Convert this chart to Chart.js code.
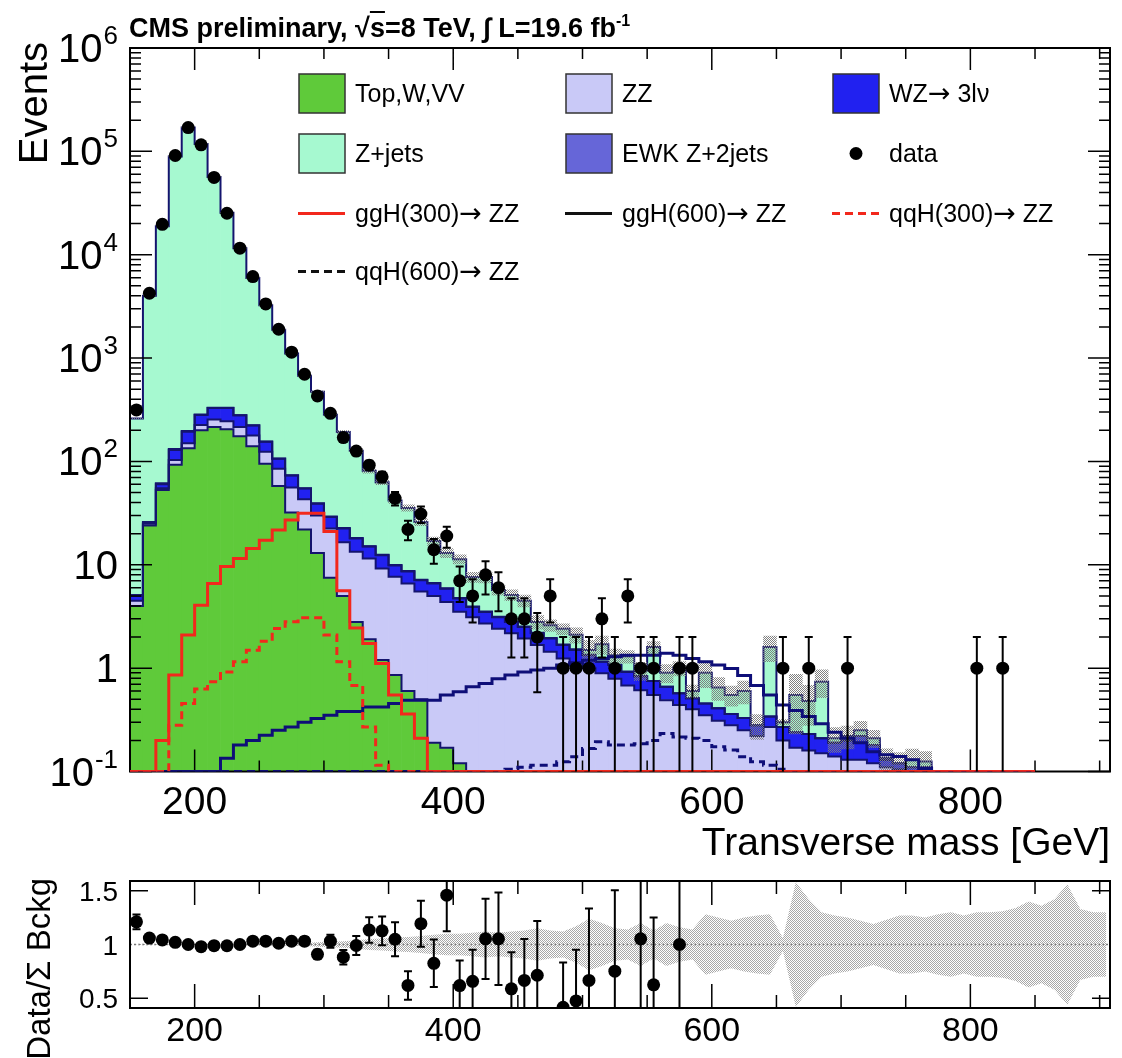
<!DOCTYPE html>
<html>
<head>
<meta charset="utf-8">
<title>Transverse mass</title>
<script src="https://cdn.jsdelivr.net/npm/chart.js@4.4.1/dist/chart.umd.min.js"></script>
<style>
  html, body { margin: 0; padding: 0; background: #fff; }
  body { position: relative; width: 1122px; height: 1058px; overflow: hidden;
         font-family: "Liberation Sans", Arial, Helvetica, sans-serif; color: #000; }
  canvas.chart { position: absolute; left: 0; }
  #mainChart { top: 0; }
  #ratioChart { top: 860px; }
  #title { position: absolute; left: 129px; top: 15px; font-size: 27px; line-height: 27px;
           font-weight: bold; white-space: nowrap; }
  #title sup { font-size: 16px; line-height: 0; vertical-align: 11px; }
  .ov { text-decoration: overline; }
  .legItem { position: absolute; height: 41px; }
  .legItem canvas { position: absolute; left: 0; top: 0; }
  .legItem span.txt { position: absolute; left: 57px; top: 8px; font-size: 25px; line-height: 25px; white-space: nowrap; }
  .arrow { font-family: "DejaVu Sans", sans-serif; font-size: 27px; line-height: 0; }
</style>
</head>
<body>
<canvas id="mainChart" class="chart" width="1122" height="880"></canvas>
<canvas id="ratioChart" class="chart" width="1122" height="198"></canvas>
<div id="title">CMS preliminary, √<span class="ov">s</span>=8 TeV, ∫ L=19.6 fb<sup>-1</sup></div>
<div id="legend"></div>
<script>
// binning: 10 GeV bins starting at 150 GeV
const BIN_START = 150;
const BIN_WIDTH = 10;

// stacked backgrounds, events per bin (150-850 GeV)
const topWVV = [4, 24, 53, 93, 134, 200, 215, 205, 175, 140,
  95, 58, 32, 22, 13, 7.5, 5, 2.8, 1.9, 1.2,
  0.86, 0.6, 0.5, 0.19, 0.17, 0.12, 0, 0, 0, 0,
  0, 0, 0, 0, 0, 0, 0, 0, 0, 0,
  0, 0, 0, 0, 0, 0, 0, 0, 0, 0,
  0, 0, 0, 0, 0, 0, 0, 0, 0, 0,
  0, 0, 0, 0, 0, 0, 0, 0, 0, 0];
const zz = [0.5, 1, 2, 10, 16, 25, 40, 40, 40, 38,
  29, 27, 24, 21, 17, 15, 11.5, 10.6, 9.6, 8.0,
  6.8, 6.0, 5.0, 4.8, 4.2, 3.4, 3.1, 2.7, 2.4, 2.17,
  1.94, 1.67, 1.44, 1.24, 1.11, 1.0, 0.89, 0.79, 0.68, 0.61,
  0.55, 0.49, 0.44, 0.4, 0.35, 0.31, 0.28, 0.25, 0.22, 0.27,
  0.2, 0.17, 0.16, 0.15, 0.14, 0.13, 0.13, 0.12, 0.11, 0.105,
  0.1, 0.1, 0, 0, 0, 0, 0, 0, 0, 0];
const wz = [0.5, 0.5, 5, 26, 44, 56, 73, 84, 64, 45,
  31, 21, 17, 11.7, 9, 6.5, 6, 4.6, 3.5, 3.2,
  2.2, 2.0, 1.6, 1.6, 1.5, 1.2, 0.8, 0.8, 0.7, 0.63,
  0.56, 0.5, 0.5, 0.43, 0.39, 0.33, 0.26, 0.28, 0.24, 0.22,
  0.2, 0.17, 0.13, 0.11, 0.105, 0.1, 0.08, 0.08, 0.06, 0.07,
  0.07, 0.07, 0.07, 0.06, 0.05, 0.07, 0.09, 0.06, 0.02, 0.015,
  0.01, 0.01, 0, 0, 0, 0, 0, 0, 0, 0];
const ewkZ2j = [0.1, 0.5, 1.5, 3, 3.5, 3, 2.5, 2, 1.5, 1.1,
  0.8, 0.6, 0.45, 0.35, 0.3, 0.25, 0.2, 0.17, 0.14, 0.12,
  0.1, 0.09, 0.08, 0.07, 0.06, 0.05, 0.05, 0.04, 0.04, 0.03,
  0.03, 0.03, 0.02, 0.02, 0.02, 0.02, 0.01, 0.01, 0.01, 0.01,
  0, 0, 0, 0, 0, 0, 0, 0, 0, 0,
  0, 0, 0, 0, 0, 0, 0, 0, 0, 0,
  0, 0, 0, 0, 0, 0, 0, 0, 0, 0];
const zJets = [255, 3974, 18840, 89270, 169800, 117700, 56170, 25170, 11280, 5744,
  3084, 1772, 1033, 621, 434, 254, 170, 109, 66, 50.5,
  32, 26.8, 18.8, 10.3, 7.1, 6.55, 3.65, 4.06, 2.56, 2.27,
  1.97, 0.6, 0.64, 0.71, 0.58, 0.15, 0.54, 0.25, 0.37, 0.11,
  0.85, 0.24, 0.43, 0.09, 0.445, 0.24, 0.19, 0.27, 0, 1.26,
  0.03, 0.31, 0.25, 0.53, 0.02, 0.02, 0.03, 0.03, 0.005, 0,
  0.02, 0.015, 0, 0, 0, 0, 0, 0, 0, 0];

// signal hypotheses
const ggH300 = [0, 0, 0.2, 0.86, 2.09, 4.07, 6.6, 9.6, 11.5, 14.4,
  17.3, 21.7, 27.1, 31.5, 31.5, 21, 5.6, 2.45, 1.73, 1.11,
  0.55, 0.36, 0.21, 0, 0, 0, 0, 0, 0, 0,
  0, 0, 0, 0, 0, 0, 0, 0, 0, 0,
  0, 0, 0, 0, 0, 0, 0, 0, 0, 0,
  0, 0, 0, 0, 0, 0, 0, 0, 0, 0,
  0, 0, 0, 0, 0, 0, 0, 0, 0, 0];
const qqH300 = [0, 0, 0, 0.28, 0.455, 0.63, 0.74, 0.92, 1.15, 1.49,
  1.82, 2.42, 2.81, 3.08, 3.08, 2.09, 1.15, 0.68, 0.27, 0.115,
  0, 0, 0, 0, 0, 0, 0, 0, 0, 0,
  0, 0, 0, 0, 0, 0, 0, 0, 0, 0,
  0, 0, 0, 0, 0, 0, 0, 0, 0, 0,
  0, 0, 0, 0, 0, 0, 0, 0, 0, 0,
  0, 0, 0, 0, 0, 0, 0, 0, 0, 0];
const ggH600 = [0, 0, 0, 0, 0, 0, 0, 0.134, 0.18, 0.2,
  0.224, 0.25, 0.27, 0.3, 0.326, 0.35, 0.38, 0.38, 0.42, 0.42,
  0.455, 0.49, 0.49, 0.49, 0.55, 0.59, 0.66, 0.71, 0.79, 0.86,
  0.92, 0.96, 1.0, 1.07, 1.13, 1.19, 1.24, 1.29, 1.33, 1.33,
  1.33, 1.39, 1.33, 1.24, 1.15, 1.07, 0.99, 0.85, 0.68, 0.55,
  0.44, 0.39, 0.34, 0.29, 0.24, 0.21, 0.19, 0.155, 0.145, 0.14,
  0.13, 0.107, 0, 0, 0, 0, 0, 0, 0, 0];
const qqH600 = [0, 0, 0, 0, 0, 0, 0, 0, 0, 0,
  0, 0, 0, 0, 0, 0, 0, 0, 0, 0,
  0, 0, 0, 0, 0, 0, 0, 0, 0, 0.105,
  0.11, 0.115, 0.115, 0.124, 0.139, 0.167, 0.194, 0.18, 0.18, 0.186,
  0.2, 0.233, 0.216, 0.21, 0.2, 0.174, 0.161, 0.139, 0.124, 0.115,
  0.105, 0, 0, 0, 0, 0, 0, 0, 0, 0,
  0, 0, 0, 0, 0, 0, 0, 0, 0, 0];

// observed events
const dataCounts = [315, 4240, 19700, 91200, 170000, 115600, 55900, 25200, 11560, 6150,
  3340, 1900, 1140, 697, 430, 292, 170, 126, 92, 71,
  44, 22, 31, 14, 19, 7, 5, 8, 6, 3,
  3, 2, 5, 1, 1, 1, 3, 1, 5, 1,
  1, 0, 1, 1, 0, 0, 0, 0, 0, 0,
  1, 0, 1, 0, 0, 1, 0, 0, 0, 0,
  0, 0, 0, 0, 0, 1, 0, 1, 0, 0];

// relative MC statistical uncertainty of the background sum (150-910 GeV)
const mcRelUnc = [0.005, 0.004, 0.003, 0.002, 0.002, 0.002, 0.003, 0.004, 0.005, 0.006,
  0.008, 0.01, 0.012, 0.015, 0.02, 0.025, 0.03, 0.04, 0.05, 0.055,
  0.065, 0.07, 0.08, 0.09, 0.1, 0.1, 0.11, 0.12, 0.11, 0.12,
  0.13, 0.15, 0.13, 0.12, 0.17, 0.24, 0.2, 0.15, 0.14, 0.2,
  0.13, 0.2, 0.16, 0.14, 0.28, 0.25, 0.22, 0.25, 0.27, 0.28,
  0.06, 0.58, 0.42, 0.3, 0.27, 0.25, 0.22, 0.19, 0.23, 0.27,
  0.27, 0.25, 0.28, 0.3, 0.27, 0.3, 0.3, 0.31, 0.34, 0.4,
  0.36, 0.42, 0.56, 0.33, 0.3, 0.3];

// axes
const X_RANGE = [150, 908];
const Y_RANGE = [0.1, 1e6];
const RATIO_RANGE = [0.41, 1.59];
const xMajorTicks = [200, 400, 600, 800];
const xMinorStep = 50;
const yDecades = [-1, 0, 1, 2, 3, 4, 5, 6];
const ratioTicks = [0.5, 1, 1.5];

const FONT = '"Liberation Sans", Arial, Helvetica, sans-serif';
const COL = {
  top: '#5fca3a', zz: '#c9c9f7', wz: '#2121f0', ewk: '#6666d8', zjets: '#a6f9d0',
  outline: '#14146e', red: '#f2281c', navy: '#0e0e78'
};

const centres = n => Array.from({ length: n }, (_, i) => BIN_START + (i + 0.5) * BIN_WIDTH);
const histCentres = centres(dataCounts.length);
const floorY = v => Math.max(v, Y_RANGE[0]);

// histogram contour: one point per left bin edge plus the closing right edge
function stepLine(vals) {
  const pts = vals.map((v, i) => ({ x: BIN_START + i * BIN_WIDTH, y: floorY(v) }));
  pts.push({ x: BIN_START + vals.length * BIN_WIDTH, y: floorY(vals[vals.length - 1]) });
  return pts;
}

function checker(color) {
  const c = document.createElement('canvas');
  c.width = c.height = 2;
  const g = c.getContext('2d');
  g.fillStyle = color;
  g.fillRect(0, 0, 1, 1);
  g.fillRect(1, 1, 1, 1);
  return document.getElementById('mainChart').getContext('2d').createPattern(c, 'repeat');
}
const hatchMain = checker('#7f7f7f');
const hatchRatio = checker('#a8a8a8');

// ---- stack ----
const layers = [
  { vals: topWVV, color: COL.top },
  { vals: zz, color: COL.zz },
  { vals: wz, color: COL.wz },
  { vals: ewkZ2j, color: COL.ewk },
  { vals: zJets, color: COL.zjets }
];
let cum = histCentres.map(() => 0);
const stackSets = [];
const outlineSets = [];
layers.forEach(l => {
  const lo = cum.slice();
  cum = cum.map((c, i) => c + l.vals[i]);
  stackSets.push({
    type: 'bar',
    data: histCentres.map((x, i) => ({ x, y: [floorY(lo[i]), floorY(cum[i])] })),
    backgroundColor: l.color, borderWidth: 0,
    grouped: false, categoryPercentage: 1, barPercentage: 1, order: 5
  });
  outlineSets.push({
    type: 'line', data: stepLine(cum), stepped: true,
    borderColor: COL.outline, borderWidth: 2, pointRadius: 0, fill: false, order: 3
  });
});
const total = cum;

const bandSet = {
  type: 'bar',
  data: histCentres.map((x, i) => total[i] > 0
    ? { x, y: [floorY(total[i] * (1 - mcRelUnc[i])), floorY(total[i] * (1 + mcRelUnc[i]))] }
    : null).filter(Boolean),
  backgroundColor: hatchMain, borderWidth: 0,
  grouped: false, categoryPercentage: 1, barPercentage: 1, order: 2,
  frameAfter: true
};

const signal = (vals, color, dash) => ({
  type: 'line', data: stepLine(vals), stepped: true,
  borderColor: color, borderWidth: 3, borderDash: dash, pointRadius: 0, fill: false, order: 1
});
const signalSets = [
  signal(ggH300, COL.red, []),
  signal(qqH300, COL.red, [8, 5]),
  signal(ggH600, COL.navy, []),
  signal(qqH600, COL.navy, [8, 5])
];

const dataPoints = histCentres
  .map((x, i) => ({ x, y: dataCounts[i], err: Math.sqrt(dataCounts[i]) }))
  .filter(p => p.y > 0);
const dataSet = {
  type: 'line', data: dataPoints, showLine: false, order: 0, errorBars: true,
  pointRadius: 6.5, pointBackgroundColor: '#000', pointBorderWidth: 0
};

// ---- drawing helpers ----
function drawErrorBars(chart) {
  const { ctx, chartArea: a, scales: { x, y } } = chart;
  ctx.save();
  ctx.beginPath();
  ctx.rect(a.left, a.top, a.right - a.left, a.bottom - a.top);
  ctx.clip();
  ctx.strokeStyle = '#000';
  ctx.lineWidth = 2;
  chart.data.datasets.filter(d => d.errorBars).forEach(d => {
    d.data.forEach(p => {
      const px = x.getPixelForValue(p.x);
      const hi = p.y + p.err, lo = p.y - p.err;
      const yHi = y.getPixelForValue(hi);
      const yLo = lo > y.min ? y.getPixelForValue(lo) : a.bottom + 3;
      ctx.beginPath();
      ctx.moveTo(px, yHi); ctx.lineTo(px, yLo);
      if (yHi > a.top) { ctx.moveTo(px - 4, yHi); ctx.lineTo(px + 4, yHi); }
      if (lo > y.min) { ctx.moveTo(px - 4, yLo); ctx.lineTo(px + 4, yLo); }
      ctx.stroke();
    });
  });
  ctx.restore();
}

function drawXTicks(ctx, a, x, majorLen, minorLen) {
  for (let v = X_RANGE[0] + xMinorStep; v < X_RANGE[1]; v += xMinorStep) {
    const px = x.getPixelForValue(v);
    const len = xMajorTicks.includes(v) ? majorLen : minorLen;
    ctx.moveTo(px, a.bottom); ctx.lineTo(px, a.bottom - len);
    ctx.moveTo(px, a.top); ctx.lineTo(px, a.top + len);
  }
}

function drawPow10(ctx, k, right, base, size) {
  ctx.textAlign = 'left';
  ctx.textBaseline = 'alphabetic';
  if (k === 0 || k === 1) {
    const s = k === 0 ? '1' : '10';
    ctx.font = size + 'px ' + FONT;
    ctx.fillText(s, right - ctx.measureText(s).width, base);
    return;
  }
  const sup = String(k);
  ctx.font = Math.round(size * 0.65) + 'px ' + FONT;
  const sw = ctx.measureText(sup).width;
  ctx.fillText(sup, right - sw, base - size * 0.45);
  ctx.font = size + 'px ' + FONT;
  const mw = ctx.measureText('10').width;
  ctx.fillText('10', right - sw - mw - 1, base);
}

function verticalTitle(ctx, text, x, yTop, size) {
  ctx.save();
  ctx.translate(x, yTop);
  ctx.rotate(-Math.PI / 2);
  ctx.font = size + 'px ' + FONT;
  ctx.textAlign = 'right';
  ctx.textBaseline = 'alphabetic';
  ctx.fillText(text, 0, 0);
  ctx.restore();
}

const mainAxes = {
  id: 'mainAxes',
  afterDatasetDraw(chart, args) {
    if (!chart.data.datasets[args.index].frameAfter) return;
    const { ctx, chartArea: a, scales: { x, y } } = chart;
    ctx.save();
    ctx.strokeStyle = '#000';
    ctx.lineWidth = 2;
    ctx.strokeRect(a.left, a.top, a.right - a.left, a.bottom - a.top);
    ctx.lineWidth = 1.5;
    ctx.beginPath();
    drawXTicks(ctx, a, x, 22, 11);
    yDecades.slice(0, -1).forEach(k => {
      for (let m = 1; m <= 9; m++) {
        const py = y.getPixelForValue(m * Math.pow(10, k));
        const len = m === 1 ? 22 : 11;
        ctx.moveTo(a.left, py); ctx.lineTo(a.left + len, py);
        ctx.moveTo(a.right, py); ctx.lineTo(a.right - len, py);
      }
    });
    ctx.stroke();
    ctx.restore();
  },
  afterDatasetsDraw(chart) { drawErrorBars(chart); },
  afterDraw(chart) {
    const { ctx, chartArea: a, scales: { x, y } } = chart;
    ctx.save();
    ctx.fillStyle = '#000';
    ctx.font = '39px ' + FONT;
    ctx.textAlign = 'center';
    ctx.textBaseline = 'alphabetic';
    xMajorTicks.forEach(v => ctx.fillText(String(v), x.getPixelForValue(v), a.bottom + 42));
    yDecades.forEach(k => drawPow10(ctx, k, 118, y.getPixelForValue(Math.pow(10, k)) + 14, 40));
    ctx.font = '39px ' + FONT;
    ctx.textAlign = 'right';
    ctx.fillText('Transverse mass [GeV]', a.right, 855);
    verticalTitle(ctx, 'Events', 47, 42, 40);
    ctx.restore();
  }
};

new Chart(document.getElementById('mainChart'), {
  type: 'bar',
  data: { datasets: [dataSet, ...signalSets, bandSet, ...outlineSets, ...stackSets] },
  options: {
    responsive: false, animation: false, events: [],
    layout: { padding: { left: 130, top: 48, right: 12, bottom: 108.5 } },
    scales: {
      x: { type: 'linear', min: X_RANGE[0], max: X_RANGE[1], offset: false, display: false },
      y: { type: 'logarithmic', min: Y_RANGE[0], max: Y_RANGE[1], display: false }
    },
    plugins: { legend: { display: false }, tooltip: { enabled: false }, title: { display: false } }
  },
  plugins: [mainAxes]
});

// ---- ratio panel ----
const uncCentres = centres(mcRelUnc.length);
const ratioPoints = histCentres
  .map((x, i) => ({ x, n: dataCounts[i], b: total[i] }))
  .filter(p => p.n > 0 && p.b > 0)
  .map(p => ({ x: p.x, y: p.n / p.b, err: Math.sqrt(p.n) / p.b }))
  .filter(p => p.y >= RATIO_RANGE[0] && p.y <= RATIO_RANGE[1]);

const ratioAxes = {
  id: 'ratioAxes',
  beforeDatasetsDraw(chart) {
    const { ctx, chartArea: a, scales: { y } } = chart;
    ctx.save();
    ctx.strokeStyle = '#777';
    ctx.lineWidth = 1.5;
    ctx.setLineDash([2, 2]);
    ctx.beginPath();
    ctx.moveTo(a.left, y.getPixelForValue(1));
    ctx.lineTo(a.right, y.getPixelForValue(1));
    ctx.stroke();
    ctx.restore();
  },
  afterDatasetsDraw(chart) { drawErrorBars(chart); },
  afterDraw(chart) {
    const { ctx, chartArea: a, scales: { x, y } } = chart;
    ctx.save();
    ctx.strokeStyle = '#000';
    ctx.lineWidth = 2;
    ctx.strokeRect(a.left, a.top, a.right - a.left, a.bottom - a.top);
    ctx.lineWidth = 1.5;
    ctx.beginPath();
    drawXTicks(ctx, a, x, 24, 13);
    ratioTicks.filter(v => v !== 1).forEach(v => {
      const py = y.getPixelForValue(v);
      ctx.moveTo(a.left, py); ctx.lineTo(a.left + 18, py);
      ctx.moveTo(a.right, py); ctx.lineTo(a.right - 18, py);
    });
    ctx.stroke();
    ctx.fillStyle = '#000';
    ctx.font = '34px ' + FONT;
    ctx.textAlign = 'center';
    ctx.textBaseline = 'alphabetic';
    xMajorTicks.forEach(v => ctx.fillText(String(v), x.getPixelForValue(v), a.bottom + 33));
    ctx.font = '28px ' + FONT;
    ctx.textAlign = 'right';
    ratioTicks.forEach(v => ctx.fillText(String(v), 118, y.getPixelForValue(v) + 10));
    verticalTitle(ctx, 'Data/Σ Bckg', 50, 18, 33);
    ctx.restore();
  }
};

new Chart(document.getElementById('ratioChart'), {
  type: 'line',
  data: {
    datasets: [
      { data: ratioPoints, showLine: false, errorBars: true, order: 0,
        pointRadius: 6.5, pointBackgroundColor: '#000', pointBorderWidth: 0 },
      { data: uncCentres.map((x, i) => ({ x, y: 1 + mcRelUnc[i] })), fill: '+1',
        backgroundColor: hatchRatio, borderColor: 'rgba(0,0,0,0)', borderWidth: 0, pointRadius: 0, order: 1 },
      { data: uncCentres.map((x, i) => ({ x, y: 1 - mcRelUnc[i] })), fill: false,
        borderColor: 'rgba(0,0,0,0)', borderWidth: 0, pointRadius: 0, order: 2 }
    ]
  },
  options: {
    responsive: false, animation: false, events: [],
    layout: { padding: { left: 130, top: 21, right: 12, bottom: 50 } },
    scales: {
      x: { type: 'linear', min: X_RANGE[0], max: X_RANGE[1], display: false },
      y: { type: 'linear', min: RATIO_RANGE[0], max: RATIO_RANGE[1], display: false }
    },
    plugins: { legend: { display: false }, tooltip: { enabled: false }, filler: { propagate: false } }
  },
  plugins: [ratioAxes]
});

// ---- legend ----
const legendEntries = [
  { label: 'Top,W,VV', kind: 'box', color: COL.top },
  { label: 'ZZ', kind: 'box', color: COL.zz },
  { label: 'WZ→ 3lν', kind: 'box', color: COL.wz },
  { label: 'Z+jets', kind: 'box', color: COL.zjets },
  { label: 'EWK Z+2jets', kind: 'box', color: COL.ewk },
  { label: 'data', kind: 'dot', color: '#000' },
  { label: 'ggH(300)→ ZZ', kind: 'line', color: COL.red, dash: [] },
  { label: 'ggH(600)→ ZZ', kind: 'line', color: '#111', dash: [] },
  { label: 'qqH(300)→ ZZ', kind: 'line', color: COL.red, dash: [8, 5] },
  { label: 'qqH(600)→ ZZ', kind: 'line', color: '#111', dash: [8, 5] }
];
const legCols = [298, 565, 832];
const legRows = [93, 153, 213, 271];
const legend = document.getElementById('legend');
legendEntries.forEach((e, i) => {
  const item = document.createElement('div');
  item.className = 'legItem';
  item.style.left = legCols[i % 3] + 'px';
  item.style.top = (legRows[Math.floor(i / 3)] - 20.5) + 'px';
  const c = document.createElement('canvas');
  c.width = 48; c.height = 41;
  const g = c.getContext('2d');
  if (e.kind === 'box') {
    g.fillStyle = e.color;
    g.fillRect(1, 1, 46, 39);
    g.strokeStyle = '#333';
    g.lineWidth = 1.5;
    g.strokeRect(1, 1, 46, 39);
  } else if (e.kind === 'dot') {
    g.fillStyle = e.color;
    g.beginPath(); g.arc(24, 20.5, 6.5, 0, 2 * Math.PI); g.fill();
  } else {
    g.strokeStyle = e.color;
    g.lineWidth = 3;
    g.setLineDash(e.dash);
    g.beginPath(); g.moveTo(0, 20.5); g.lineTo(47, 20.5); g.stroke();
  }
  // label text, with the arrow set in a font that has a full-size glyph
  const s = document.createElement('span');
  s.className = 'txt';
  e.label.split('→').forEach((part, j) => {
    if (j > 0) {
      const ar = document.createElement('span');
      ar.className = 'arrow';
      ar.textContent = '→';
      s.appendChild(ar);
    }
    s.appendChild(document.createTextNode(part));
  });
  item.appendChild(c);
  item.appendChild(s);
  legend.appendChild(item);
});
</script>
</body>
</html>
